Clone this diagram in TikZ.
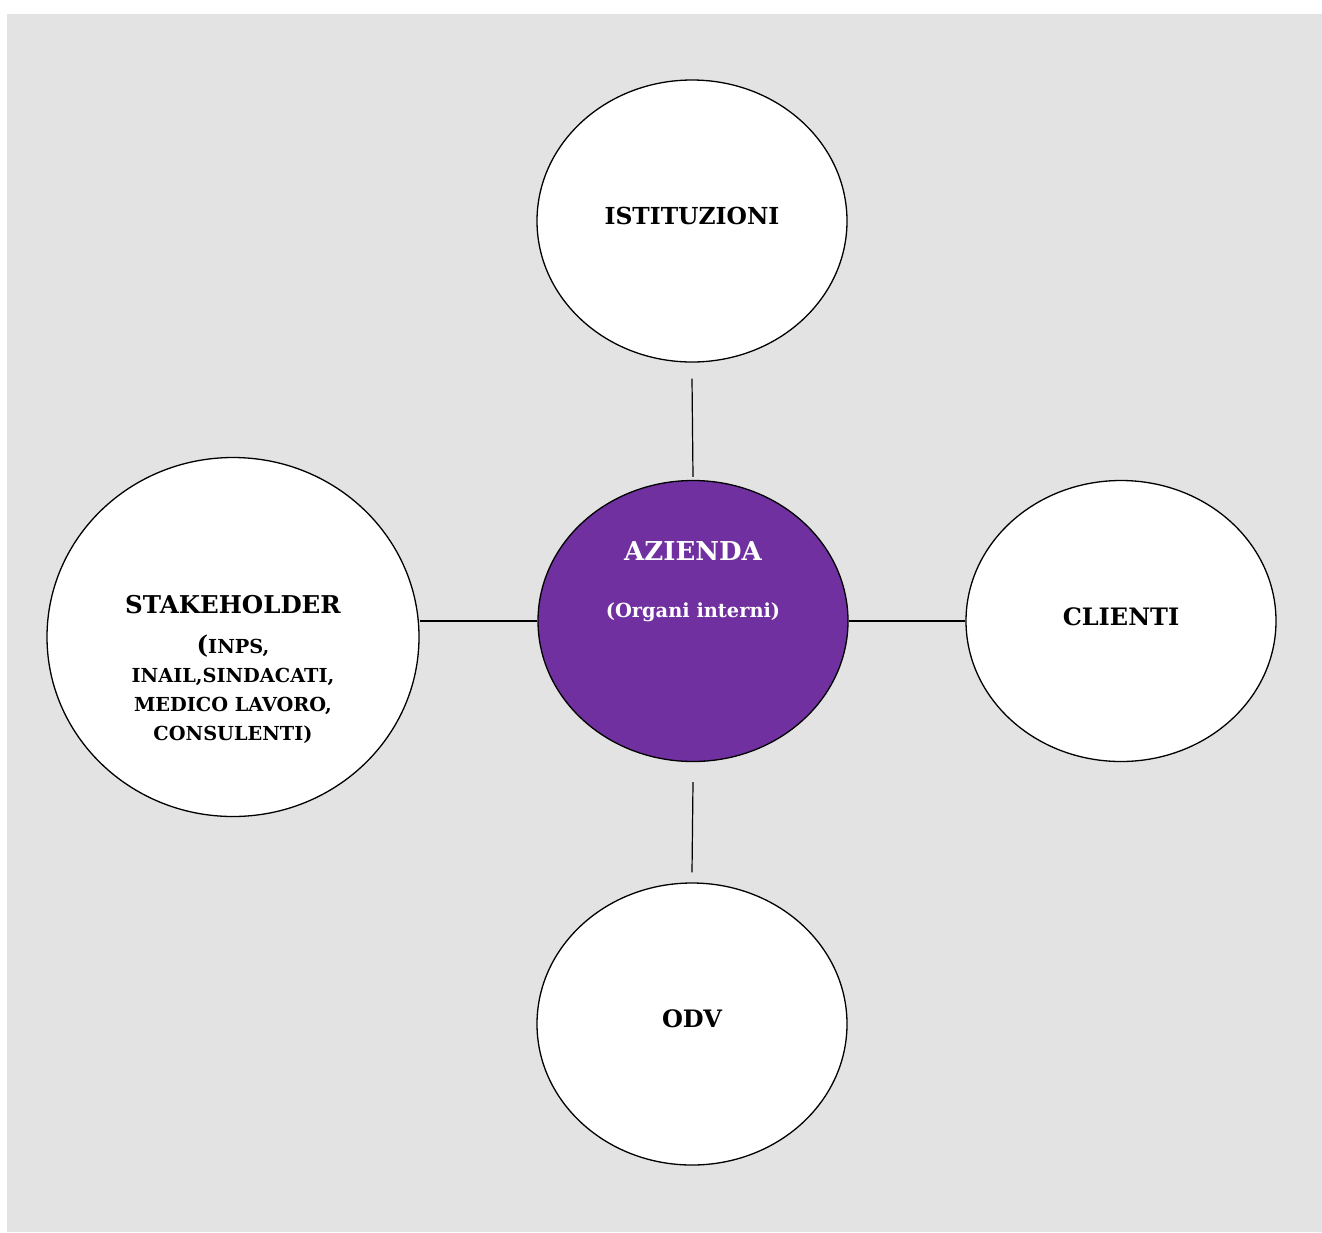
\documentclass[tikz,border=0pt]{standalone}
\usepackage{fontspec}
\setmainfont{DejaVu Serif}
\usetikzlibrary{shapes.geometric}
\definecolor{bggray}{HTML}{E3E3E3}
\definecolor{azpurple}{HTML}{7030A0}
\begin{document}
\begin{tikzpicture}[x=1pt,y=-1pt,
  blob/.style={ellipse,draw=black,line width=1.3pt,fill=white,inner sep=0pt},
  lbl/.style={font=\bfseries\fontsize{24}{28}\selectfont,inner sep=0pt,anchor=center},
  sublbl/.style={font=\bfseries\fontsize{19.3}{29}\selectfont,inner sep=0pt,align=center},
  link/.style={line width=1.2pt}]
\useasboundingbox (0,0) rectangle (1322,1232);
\fill[bggray] (7,14) rectangle (1322,1232);
% ellipses
\node[blob,minimum width=310pt,minimum height=282pt] (ist) at (692,221) {};
\node[blob,fill=azpurple,minimum width=310pt,minimum height=281pt] (az) at (693,621) {};
\node[blob,minimum width=372pt,minimum height=359pt] (stk) at (233,637) {};
\node[blob,minimum width=310pt,minimum height=281pt] (cli) at (1121,621) {};
\node[blob,minimum width=310pt,minimum height=282pt] (odv) at (692,1024) {};
% labels
\node[lbl,font=\bfseries\fontsize{23.4}{28}\selectfont] (istT) at (692,216) {ISTITUZIONI};
\node[lbl,text=white,font=\bfseries\fontsize{26}{30}\selectfont] (azT) at (693,551) {AZIENDA};
\node[lbl,text=white,font=\bfseries\fontsize{19.4}{22}\selectfont] (azS) at (693,612) {(Organi interni)};
\node[lbl,font=\bfseries\fontsize{24.5}{28}\selectfont] (stkT) at (233,605) {STAKEHOLDER};
\node[sublbl] (stkS) at (233,689) {{\fontsize{24.5}{28}\selectfont(}INPS,\\INAIL,SINDACATI,\\MEDICO LAVORO,\\CONSULENTI)};
\node[lbl] (cliT) at (1121,617) {CLIENTI};
\node[lbl] (odvT) at (692,1019) {ODV};
% connectors
\draw[link] ([yshift=-16pt]ist.south) -- ([yshift=3pt]az.north);
\draw[link] ([yshift=-20pt]az.south) -- ([yshift=10pt]odv.north);
\draw[link] (az.west -| stk.east) -- (az.west);
\draw[link] (az.east) -- (cli.west);
\end{tikzpicture}
\end{document}
